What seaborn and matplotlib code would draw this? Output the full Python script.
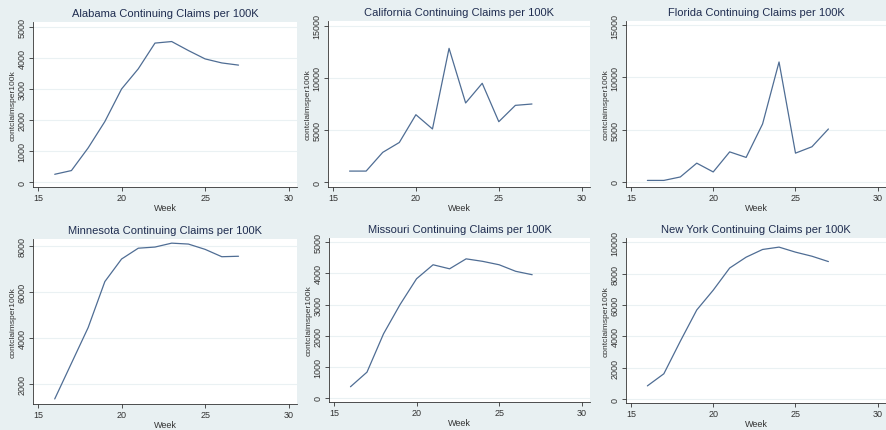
import pandas as pd
import matplotlib
matplotlib.use("Agg")
import matplotlib.pyplot as plt
import seaborn as sns

weeks = list(range(16, 28))
alabama = [250, 370, 1100, 1950, 3000, 3650, 4480, 4530, 4240, 3970, 3840, 3770]
california = [1050, 1050, 2850, 3800, 6470, 5100, 12850, 7600, 9490, 5800, 7370, 7500]
florida = [150, 150, 480, 1800, 960, 2880, 2350, 5550, 11480, 2760, 3370, 5070]
minnesota = [1350, 2900, 4450, 6450, 7430, 7900, 7950, 8120, 8080, 7850, 7530, 7550]
missouri = [360, 830, 2060, 3000, 3830, 4280, 4150, 4470, 4390, 4280, 4070, 3960]
new_york = [850, 1620, 3690, 5680, 6940, 8350, 9040, 9530, 9680, 9360, 9100, 8760]

states = ["Alabama", "California", "Florida", "Minnesota", "Missouri", "New York"]
series = [alabama, california, florida, minnesota, missouri, new_york]
x_ticks = [15, 20, 25, 30]
y_ticks = [
    [0, 1000, 2000, 3000, 4000, 5000],
    [0, 5000, 10000, 15000],
    [0, 5000, 10000, 15000],
    [2000, 4000, 6000, 8000],
    [0, 1000, 2000, 3000, 4000, 5000],
    [0, 2000, 4000, 6000, 8000, 10000],
]
y_lims = [(-160, 5160), (-480, 15480), (-480, 15400),
          (1130, 8300), (-130, 5140), (-240, 10260)]

# pixel boxes of the plot regions: left, right, top, bottom
boxes = [(33, 297, 23, 188), (328, 590, 22, 188), (626, 886, 22, 188),
         (33, 297, 240, 405), (329, 590, 239, 403), (626, 886, 239, 404)]

bg = "#e8f0f2"
line_col = "#4f6d94"
title_col = "#1f2d50"

sns.set_theme(style="white")
plt.rcParams['font.family'] = ['Liberation Sans', 'DejaVu Sans']

W, H = 886, 431
fig = plt.figure(figsize=(W / 100, H / 100), dpi=100)
fig.patch.set_facecolor(bg)

for i, (state, vals) in enumerate(zip(states, series)):
    l, r, t, b = boxes[i]
    ax = fig.add_axes([l / W, 1 - b / H, (r - l) / W, (b - t) / H])
    ax.set_facecolor("white")
    df = pd.DataFrame({"Week": weeks, "contclaimsper100k": vals})
    for yt in y_ticks[i]:
        ax.axhline(yt, color="#eaf1f3", lw=0.8, zorder=0)
    sns.lineplot(data=df, x="Week", y="contclaimsper100k", ax=ax,
                 color=line_col, lw=0.9)
    ax.set_xlim(14.7, 30.5)
    ax.set_ylim(*y_lims[i])
    ax.set_xticks(x_ticks)
    ax.set_yticks(y_ticks[i])
    ax.set_yticklabels([str(v) for v in y_ticks[i]], rotation=90, va="center")
    ax.tick_params(axis="both", labelsize=6.5, length=3, width=0.6,
                   color="#333333", labelcolor="#333333", pad=1.5,
                   direction="out", bottom=True, left=True)
    ax.set_xlabel("Week", fontsize=6.5, color="#333333", labelpad=0.5)
    ax.set_ylabel("contclaimsper100k", fontsize=6, color="#333333", labelpad=0.5)
    ax.set_title(f"{state} Continuing Claims per 100K", fontsize=8,
                 color=title_col, pad=4)
    for s in ["top", "right"]:
        ax.spines[s].set_visible(False)
    for s in ["left", "bottom"]:
        ax.spines[s].set_color("#333333")
        ax.spines[s].set_linewidth(0.6)

fig.savefig("out.png", dpi=100, facecolor=bg)
